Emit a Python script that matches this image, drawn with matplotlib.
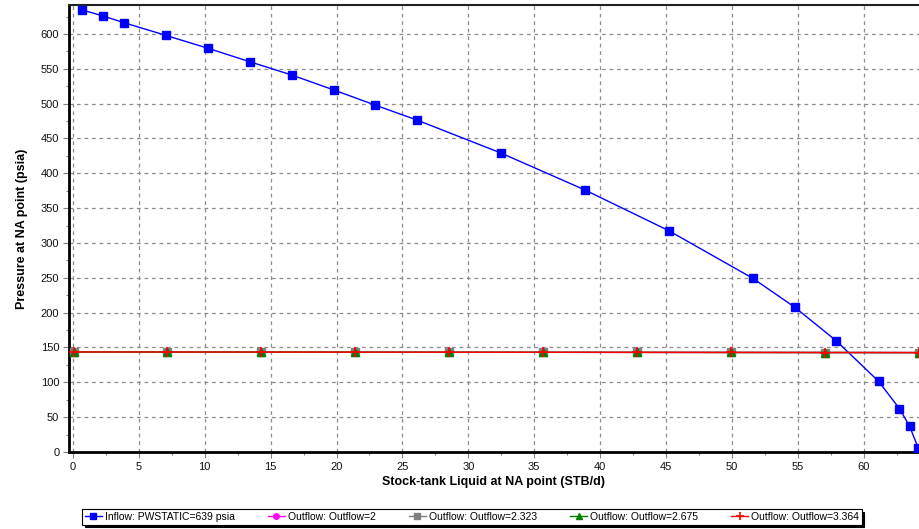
import matplotlib
matplotlib.use("Agg")
import matplotlib.pyplot as plt
from matplotlib.ticker import MultipleLocator

plt.rcParams['font.family'] = ['Liberation Sans', 'DejaVu Sans']

# Inflow (IPR) curve
inflow_q = [0.71, 2.30, 3.87, 7.03, 10.24, 13.41, 16.62, 19.80, 22.91, 26.10,
            32.47, 38.85, 45.22, 51.59, 54.78, 57.91, 61.13, 62.72, 63.48, 64.13]
inflow_p = [634.4, 625.8, 616.2, 598.1, 579.5, 560.2, 541.0, 519.6, 498.1, 476.5,
            429.2, 376.1, 317.6, 249.3, 207.7, 159.8, 101.5, 62.2, 37.3, 6.2]

# Outflow curves (all nearly coincident)
outflow_q = [0.08, 7.14, 14.27, 21.41, 28.55, 35.69, 42.82, 49.96, 57.10, 64.23]
outflow_p_2 = [143.6, 143.5, 143.4, 143.3, 143.2, 143.1, 143.0, 142.9, 142.8, 142.7]
outflow_p_2323 = [143.6, 143.5, 143.4, 143.3, 143.2, 143.1, 143.0, 142.9, 142.8, 142.7]
outflow_p_2675 = [143.6, 143.5, 143.4, 143.3, 143.2, 143.1, 143.0, 142.9, 142.8, 142.7]
outflow_p_3364 = [143.6, 143.5, 143.4, 143.3, 143.2, 143.1, 143.0, 142.9, 142.8, 142.7]

labels = ["Inflow: PWSTATIC=639 psia", "Outflow: Outflow=2", "Outflow: Outflow=2.323",
          "Outflow: Outflow=2.675", "Outflow: Outflow=3.364"]

fig = plt.figure(figsize=(9.19, 5.29), dpi=100)
ax = fig.add_axes([69/919, 77/529, 1 - 69/919, (452-5)/529])

h_in, = ax.plot(inflow_q, inflow_p, color='#0000ff', lw=1.0, marker='s', ms=6,
                mfc='#0000ff', mec='#0000ff', zorder=3)
h_m, = ax.plot(outflow_q, outflow_p_2, color='#ff00ff', lw=1.0, marker='o', ms=5,
               mfc='#ff00ff', mec='#ff00ff', zorder=4)
h_g, = ax.plot(outflow_q, outflow_p_2323, color='#808080', lw=1.0, marker='s', ms=5.5,
               mfc='#808080', mec='#808080', zorder=5)
h_gr, = ax.plot(outflow_q, outflow_p_2675, color='#008000', lw=1.0, marker='^', ms=5.5,
                mfc='#008000', mec='#008000', zorder=6)
h_r, = ax.plot(outflow_q, outflow_p_3364, color='#ff0000', lw=1.0, marker='+', ms=7,
               mew=1.2, zorder=7)

ax.set_xlim(-0.3, 64.2)
ax.set_ylim(0, 641.6)
ax.xaxis.set_major_locator(MultipleLocator(5))
ax.xaxis.set_minor_locator(MultipleLocator(2.5))
ax.yaxis.set_major_locator(MultipleLocator(50))
ax.yaxis.set_minor_locator(MultipleLocator(25))

ax.grid(True, which='major', color='#8c8c8c', linestyle=(0, (3, 3)), lw=0.9)
ax.set_axisbelow(True)

for s in ['left', 'bottom']:
    ax.spines[s].set_linewidth(2.0)
    ax.spines[s].set_color('black')
ax.spines['top'].set_linewidth(1.5)
ax.spines['top'].set_color('#222222')
ax.spines['right'].set_visible(False)

ax.tick_params(axis='both', which='major', labelsize=8, length=4, width=0.8,
               color='#808080', pad=3, labelcolor='#111111')
ax.tick_params(axis='both', which='minor', length=2, width=0.8, color='#808080')

ax.set_xlabel("Stock-tank Liquid at NA point (STB/d)", fontsize=9, fontweight='bold', labelpad=3)
ax.set_ylabel("Pressure at NA point (psia)", fontsize=9, fontweight='bold', labelpad=9)

leg = fig.legend([h_in, h_m, h_g, h_gr, h_r], labels, loc='center',
                 bbox_to_anchor=(472/919, 1 - 517/529), ncol=5, fontsize=7.5,
                 frameon=True, fancybox=False, shadow={'color': 'black', 'alpha': 1.0},
                 edgecolor='black', borderpad=0.25, handlelength=1.6,
                 handletextpad=0.3, columnspacing=3.2, markerscale=0.8)
leg.get_frame().set_linewidth(0.8)

fig.savefig("out.png", dpi=100)
